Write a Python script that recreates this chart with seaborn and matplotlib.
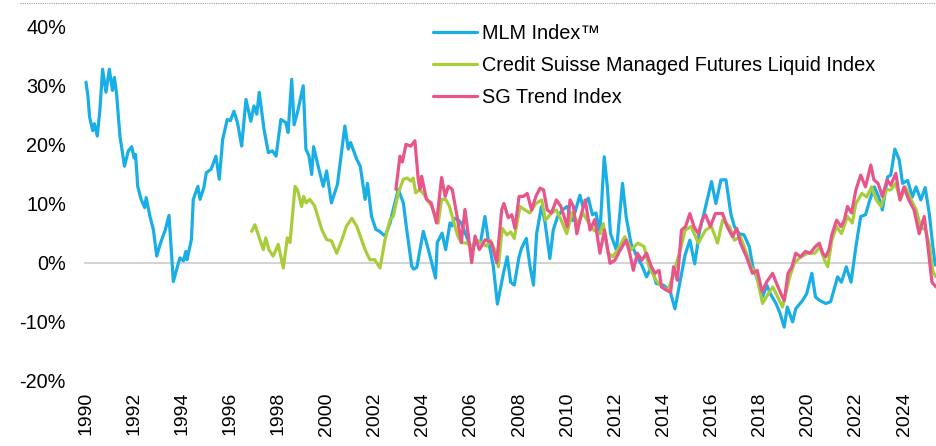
import numpy as np
import pandas as pd
import seaborn as sns
from matplotlib import pyplot as plt
from matplotlib.lines import Line2D
from matplotlib.ticker import FuncFormatter

# values (year, % return)
mlm_years = [1990.00, 1990.08, 1990.15, 1990.28, 1990.35, 1990.47, 1990.58, 1990.69, 1990.83, 1990.97,
             1991.10, 1991.18, 1991.27, 1991.41, 1991.60, 1991.76, 1991.90, 1992.00, 1992.06, 1992.15,
             1992.29, 1992.44, 1992.50, 1992.66, 1992.80, 1992.94, 1993.08, 1993.30, 1993.45, 1993.63,
             1993.90, 1994.05, 1994.15, 1994.20, 1994.38, 1994.46, 1994.65, 1994.74, 1994.90, 1995.00,
             1995.20, 1995.40, 1995.54, 1995.68, 1995.87, 1996.00, 1996.15, 1996.30, 1996.47, 1996.65,
             1996.85, 1996.98, 1997.10, 1997.20, 1997.40, 1997.58, 1997.75, 1997.90, 1998.10, 1998.30,
             1998.40, 1998.55, 1998.65, 1998.80, 1999.03, 1999.14, 1999.27, 1999.38, 1999.46, 1999.65,
             1999.86, 2000.00, 2000.20, 2000.45, 2000.76, 2000.90, 2001.00, 2001.25, 2001.40, 2001.60,
             2001.70, 2001.87, 2002.05, 2002.20, 2002.43, 2002.64, 2002.77, 2002.98, 2003.19, 2003.33,
             2003.54, 2003.62, 2003.75, 2004.02, 2004.15, 2004.30, 2004.53, 2004.60, 2004.80, 2004.95,
             2005.13, 2005.22, 2005.30, 2005.45, 2005.60, 2006.03, 2006.20, 2006.40, 2006.58, 2006.72,
             2006.93, 2007.10, 2007.35, 2007.51, 2007.65, 2007.80, 2008.00, 2008.10, 2008.30, 2008.45,
             2008.60, 2008.73, 2008.93, 2009.07, 2009.28, 2009.42, 2009.60, 2009.80, 2010.00, 2010.22,
             2010.53, 2010.65, 2010.88, 2011.05, 2011.20, 2011.36, 2011.54, 2011.67, 2011.80, 2012.05,
             2012.30, 2012.45, 2012.65, 2012.90, 2013.10, 2013.30, 2013.50, 2013.70, 2014.00, 2014.27,
             2014.48, 2014.70, 2014.90, 2015.10, 2015.30, 2015.50, 2015.72, 2016.00, 2016.18, 2016.39,
             2016.60, 2016.80, 2016.95, 2017.15, 2017.35, 2017.57, 2017.72, 2017.92, 2018.12, 2018.30,
             2018.45, 2018.68, 2018.85, 2019.02, 2019.15, 2019.37, 2019.50, 2019.78, 2019.95, 2020.17,
             2020.32, 2020.50, 2020.75, 2020.95, 2021.08, 2021.24, 2021.40, 2021.60, 2021.80, 2022.00,
             2022.20, 2022.40, 2022.58, 2022.77, 2022.95, 2023.10, 2023.32, 2023.45, 2023.62, 2023.80,
             2023.94, 2024.15, 2024.35, 2024.50, 2024.70, 2024.88, 2025.05, 2025.20, 2025.30]
mlm_vals = [30.5, 28.2, 24.6, 22.3, 23.5, 21.4, 25.9, 32.7, 28.8, 32.7,
            29.1, 31.3, 28.6, 21.4, 16.3, 18.9, 19.6, 17.7, 18.3, 12.9,
            10.7, 9.3, 11.0, 7.8, 5.6, 1.1, 3.1, 5.6, 8.0, -3.2,
            0.8, 0.3, 1.9, 0.5, 3.9, 10.7, 12.9, 10.7, 12.7, 15.2,
            15.8, 18.0, 14.1, 20.8, 24.2, 24.0, 25.6, 23.6, 19.7, 27.6,
            23.9, 26.5, 25.1, 28.8, 22.5, 18.6, 18.9, 18.0, 24.2, 23.7,
            22.0, 31.0, 23.3, 25.6, 29.9, 19.2, 18.0, 14.9, 19.6, 16.3,
            12.9, 15.5, 10.1, 13.2, 23.1, 19.2, 20.3, 17.5, 16.3, 10.7,
            13.4, 7.8, 5.6, 5.3, 4.5, 6.7, 9.0, 12.4, 10.1, 5.6,
            -0.6, -1.1, -0.8, 5.3, 3.4, 1.1, -2.6, 3.4, 5.0, 2.2,
            6.7, 6.2, 7.5, 7.3, 6.7, 2.2, 3.4, 3.4, 7.8, 3.9,
            -0.6, -7.0, -1.8, 1.0, -3.3, -3.8, 1.0, 2.4, 4.1, -0.5,
            -3.8, 4.9, 9.5, 7.1, 0.7, 5.5, 7.8, 8.9, 9.5, 7.1,
            11.4, 9.5, 10.9, 8.1, 8.4, 4.9, 17.9, 12.8, 4.9, 2.1,
            13.4, 7.8, 3.3, 1.0, -0.4, -2.4, -0.7, -3.5, -3.8, -4.7,
            -7.8, -3.0, 1.3, 3.8, -0.2, 5.3, 8.9, 13.7, 10.0, 14.0,
            14.0, 8.3, 6.1, 4.9, 4.7, 2.7, -0.7, -3.0, -5.8, -3.8,
            -5.3, -6.9, -8.6, -10.9, -7.5, -10.0, -7.8, -6.4, -5.3, -1.8,
            -5.8, -6.4, -6.9, -6.6, -4.7, -2.4, -3.3, -0.7, -3.3, 2.7,
            7.8, 8.1, 10.6, 12.8, 11.1, 8.9, 14.5, 14.8, 19.2, 17.4,
            13.4, 13.9, 11.1, 12.8, 10.6, 12.7, 8.3, 2.7, -0.4]

cs_years = [1996.89, 1997.02, 1997.23, 1997.37, 1997.47, 1997.60, 1997.78, 1997.99, 1998.20, 1998.37,
            1998.48, 1998.69, 1998.80, 1998.96, 1999.05, 1999.15, 1999.30, 1999.50, 1999.80, 2000.00,
            2000.20, 2000.42, 2000.62, 2000.83, 2001.05, 2001.25, 2001.40, 2001.60, 2001.80, 2002.00,
            2002.22, 2002.43, 2002.64, 2002.77, 2002.98, 2003.19, 2003.35, 2003.50, 2003.60, 2003.70,
            2003.85, 2004.00, 2004.37, 2004.64, 2004.78, 2004.95, 2005.10, 2005.30, 2005.45, 2005.60,
            2005.82, 2006.03, 2006.24, 2006.45, 2006.65, 2006.80, 2007.00, 2007.14, 2007.30, 2007.50,
            2007.65, 2007.80, 2008.04, 2008.25, 2008.45, 2008.70, 2008.94, 2009.10, 2009.35, 2009.55,
            2009.75, 2009.98, 2010.20, 2010.45, 2010.65, 2010.90, 2011.10, 2011.36, 2011.50, 2011.70,
            2011.90, 2012.10, 2012.40, 2012.65, 2012.94, 2013.20, 2013.40, 2013.70, 2013.95, 2014.20,
            2014.42, 2014.70, 2014.90, 2015.15, 2015.45, 2015.75, 2016.00, 2016.25, 2016.46, 2016.75,
            2016.95, 2017.20, 2017.45, 2017.64, 2017.85, 2018.12, 2018.35, 2018.55, 2018.75, 2018.95,
            2019.25, 2019.45, 2019.72, 2020.00, 2020.30, 2020.50, 2020.70, 2020.83, 2021.00, 2021.20,
            2021.40, 2021.65, 2021.85, 2022.00, 2022.25, 2022.45, 2022.65, 2022.85, 2023.05, 2023.25,
            2023.45, 2023.65, 2023.85, 2024.05, 2024.30, 2024.50, 2024.70, 2024.90, 2025.05, 2025.20,
            2025.33]
cs_vals = [5.3, 6.4, 3.9, 2.2, 4.2, 2.2, 1.1, 3.1, -0.9, 4.2,
           3.4, 12.9, 12.2, 9.5, 11.2, 10.1, 10.7, 9.6, 5.6, 3.9,
           3.7, 1.6, 3.7, 6.2, 7.5, 6.2, 4.5, 2.2, 0.5, 0.5,
           -0.9, 3.9, 7.3, 7.8, 11.8, 14.1, 14.3, 13.8, 14.3, 11.8,
           12.3, 11.8, 9.5, 6.7, 10.7, 10.7, 9.6, 6.7, 4.5, 3.4,
           3.3, 2.8, 3.8, 3.3, 2.8, 3.8, 2.1, -0.7, 5.8, 4.7,
           5.2, 4.1, 9.5, 8.9, 8.4, 10.0, 10.6, 7.2, 8.4, 8.9,
           7.2, 4.9, 8.4, 6.7, 8.4, 6.7, 5.5, 4.9, 6.6, 1.6,
           1.0, 2.2, 4.4, 2.2, 3.3, 2.7, -0.7, -3.0, -4.1, -4.7,
           -1.8, 2.1, 5.5, 6.1, 3.3, 5.5, 6.1, 3.3, 7.2, 6.1,
           3.8, 4.4, 1.6, -0.7, -1.8, -6.9, -5.3, -4.1, -5.8, -7.5,
           -2.4, 0.0, 1.0, 1.6, 1.6, 2.7, 0.4, -0.7, 3.8, 6.1,
           4.9, 7.8, 6.7, 10.0, 11.7, 11.1, 12.8, 10.6, 9.5, 12.3,
           12.3, 13.4, 10.6, 12.8, 10.6, 9.0, 6.0, 5.5, 3.0, -1.5,
           -2.4]

sg_years = [2002.88, 2003.05, 2003.15, 2003.30, 2003.50, 2003.67, 2003.81, 2003.88, 2003.95, 2004.15,
            2004.35, 2004.57, 2004.78, 2004.93, 2005.06, 2005.22, 2005.40, 2005.60, 2005.75, 2005.88,
            2006.03, 2006.17, 2006.35, 2006.60, 2006.85, 2007.07, 2007.28, 2007.37, 2007.55, 2007.70,
            2007.83, 2008.00, 2008.17, 2008.34, 2008.52, 2008.70, 2008.87, 2009.02, 2009.17, 2009.35,
            2009.55, 2009.74, 2010.00, 2010.12, 2010.26, 2010.40, 2010.60, 2010.75, 2010.95, 2011.15,
            2011.36, 2011.55, 2011.78, 2011.98, 2012.20, 2012.45, 2012.60, 2012.75, 2012.92, 2013.10,
            2013.30, 2013.50, 2013.65, 2013.82, 2013.92, 2014.15, 2014.30, 2014.42, 2014.58, 2014.75,
            2014.92, 2015.10, 2015.27, 2015.45, 2015.62, 2015.75, 2015.95, 2016.16, 2016.46, 2016.65,
            2016.87, 2017.05, 2017.20, 2017.45, 2017.70, 2017.90, 2018.10, 2018.30, 2018.54, 2018.70,
            2018.88, 2019.02, 2019.18, 2019.34, 2019.50, 2019.70, 2019.90, 2020.10, 2020.31, 2020.48,
            2020.62, 2020.75, 2020.88, 2021.00, 2021.20, 2021.38, 2021.52, 2021.65, 2021.82, 2022.00,
            2022.20, 2022.40, 2022.62, 2022.75, 2022.92, 2023.10, 2023.30, 2023.45, 2023.66, 2023.83,
            2024.00, 2024.20, 2024.42, 2024.63, 2024.84, 2024.98, 2025.16, 2025.33]
sg_vals = [12.4, 18.0, 17.0, 20.0, 19.7, 20.6, 14.1, 12.4, 14.6, 10.7,
           10.1, 6.7, 14.4, 11.2, 12.9, 12.4, 8.4, 3.4, 9.0, 5.0,
           0.0, 4.5, 2.2, 3.9, 3.4, 0.0, 9.0, 10.0, 7.6, 8.1,
           5.8, 11.2, 11.2, 11.7, 8.9, 11.2, 12.6, 12.3, 8.9, 8.4,
           10.6, 9.5, 6.1, 10.6, 9.5, 4.9, 8.4, 10.6, 5.5, 7.3,
           1.6, 5.5, -0.1, 0.4, 2.1, 3.8, 1.6, -1.3, 1.6, 0.4,
           1.6, -0.7, -1.8, -1.3, -4.1, -4.7, -5.0, -0.7, -3.0, 5.5,
           6.1, 8.3, 6.1, 4.9, 7.3, 8.1, 6.1, 8.3, 8.3, 6.1,
           4.4, 5.8, 3.3, 1.0, -1.8, -1.3, -4.9, -3.2, -1.8, -3.5,
           -5.2, -6.4, -1.8, -0.7, 1.6, 1.0, 1.9, 1.6, 2.7, 3.3,
           1.6, 1.0, 2.2, 4.7, 7.2, 6.1, 7.2, 9.5, 8.4, 12.3,
           14.8, 12.8, 16.5, 14.0, 13.4, 11.2, 14.0, 13.1, 15.1, 10.6,
           12.8, 10.6, 8.9, 4.9, 7.8, 3.3, -3.3, -4.1]

series_names = ["MLM Index\u2122", "Credit Suisse Managed Futures Liquid Index", "SG Trend Index"]
colors = ["#1aaee6", "#a9cd3a", "#e8558b"]
y_ticks = [-20, -10, 0, 10, 20, 30, 40]
x_ticks = list(range(1990, 2025, 2))

sns.set_theme(style="white")
plt.rcParams['font.family'] = ['Liberation Sans', 'DejaVu Sans']

fig = plt.figure(figsize=(9.36, 4.46), dpi=100)
ax = fig.add_axes([84 / 936, 1 - 381 / 446, 852 / 936, 355 / 446])

ax.axhline(0, color="#cfcfcf", linewidth=1.3, zorder=1)

for name, xs, ys, c in zip(series_names, [mlm_years, cs_years, sg_years],
                           [mlm_vals, cs_vals, sg_vals], colors):
    df = pd.DataFrame({"year": xs, "value": ys})
    sns.lineplot(data=df, x="year", y="value", color=c, linewidth=2.3, label=name, ax=ax, zorder=2)

ax.set_xlim(1989.917, 2025.33)
ax.set_ylim(-20, 40)
ax.set_yticks(y_ticks)
ax.set_xticks(x_ticks)
ax.set_xticklabels([str(y) for y in x_ticks], rotation=90)
ax.yaxis.set_major_formatter(FuncFormatter(lambda v, p: f"{v:.0f}%"))
ax.tick_params(axis="y", length=0, pad=13, labelsize=14.3, labelcolor="black")
ax.tick_params(axis="x", length=0, pad=8, labelsize=14, labelcolor="black")
ax.set_xlabel("")
ax.set_ylabel("")
for s in ax.spines.values():
    s.set_visible(False)

leg = ax.legend(loc="upper left", bbox_to_anchor=(433 / 936, 1 - 24 / 446),
                bbox_transform=fig.transFigure, frameon=False, fontsize=14.3,
                handlelength=2.2, handletextpad=0.25, labelspacing=0.66,
                borderpad=0, borderaxespad=0)
for t in leg.get_texts():
    t.set_color("black")

# faint dotted rule along the top edge
fig.add_artist(Line2D([20 / 936, 1.0], [1 - 3 / 446, 1 - 3 / 446], transform=fig.transFigure,
                      color="#9aa0a0", linewidth=0.8, linestyle=(0, (1, 1))))

fig.savefig("out.png", dpi=100)
